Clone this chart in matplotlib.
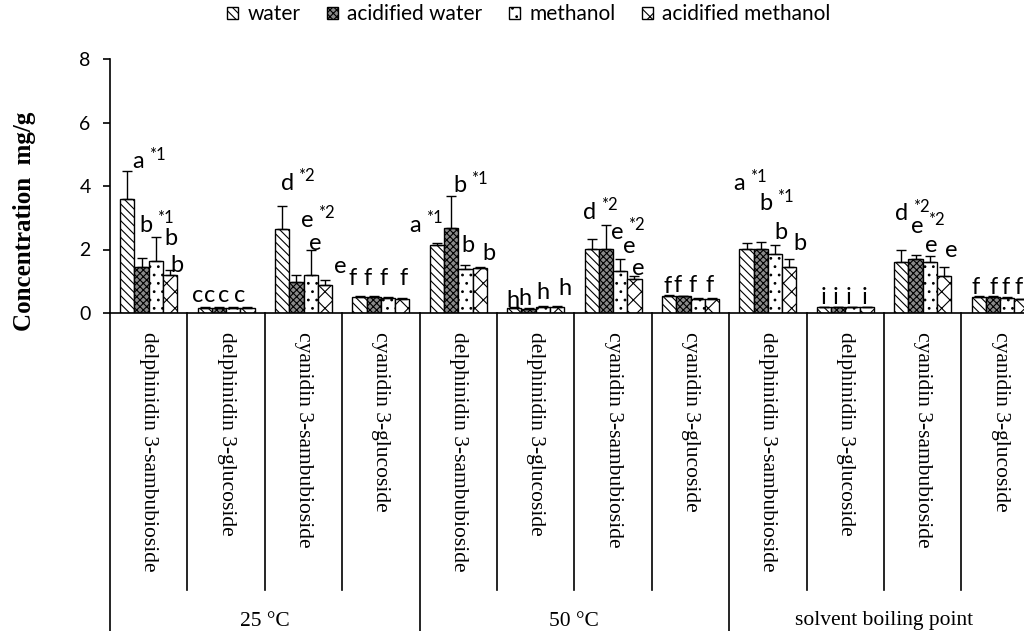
"""
Anthocyanin content of the extracts by solvent and extraction temperature.
Grouped hatched bars with upward error bars and significance letters.
"""

import numpy as np
import matplotlib
matplotlib.use("Agg")
import matplotlib.pyplot as plt


# ================================================================
# DATA
# ================================================================

TEMPERATURES = ["25 °C", "50 °C", "solvent boiling point"]
COMPOUNDS = [
    "delphinidin 3-sambubioside",
    "delphinidin 3-glucoside",
    "cyanidin 3-sambubioside",
    "cyanidin 3-glucoside",
]
SOLVENTS = ["water", "acidified water", "methanol", "acidified methanol"]

# mg/g, one value per compound x temperature (12 categories)
water = [3.59, 0.16, 2.63, 0.50, 2.15, 0.16, 2.03, 0.53, 2.03, 0.18, 1.60, 0.50]
water_err = [0.89, 0.03, 0.75, 0.02, 0.04, 0.02, 0.31, 0.04, 0.16, 0.02, 0.37, 0.03]
acid_water = [1.45, 0.15, 0.98, 0.50, 2.68, 0.14, 2.03, 0.53, 2.03, 0.18, 1.71, 0.50]
acid_water_err = [0.27, 0.03, 0.21, 0.02, 1.01, 0.02, 0.75, 0.02, 0.20, 0.02, 0.11, 0.05]
methanol = [1.63, 0.16, 1.19, 0.47, 1.40, 0.20, 1.32, 0.45, 1.87, 0.18, 1.60, 0.47]
methanol_err = [0.77, 0.03, 0.79, 0.02, 0.10, 0.02, 0.39, 0.02, 0.26, 0.02, 0.19, 0.02]
acid_meth = [1.19, 0.16, 0.87, 0.45, 1.41, 0.20, 1.08, 0.45, 1.45, 0.18, 1.18, 0.43]
acid_meth_err = [0.16, 0.03, 0.16, 0.02, 0.03, 0.02, 0.10, 0.02, 0.26, 0.02, 0.27, 0.02]

# significance letters per bar (water, acid. water, methanol, acid. methanol)
letters = [
    ["a", "b", "b", "b"], ["c", "c", "c", "c"], ["d", "e", "e", "e"], ["f", "f", "f", "f"],
    ["a", "b", "b", "b"], ["h", "h", "h", "h"], ["d", "e", "e", "e"], ["f", "f", "f", "f"],
    ["a", "b", "b", "b"], ["i", "i", "i", "i"], ["d", "e", "e", "e"], ["f", "f", "f", "f"],
]
superscripts = [
    ["*1", "*1", "", ""], ["", "", "", ""], ["*2", "*2", "", ""], ["", "", "", ""],
    ["*1", "*1", "", ""], ["", "", "", ""], ["*2", "*2", "", ""], ["", "", "", ""],
    ["*1", "*1", "", ""], ["", "", "", ""], ["*2", "*2", "", ""], ["", "", "", ""],
]


# ================================================================
# LAYOUT
# ================================================================

# letter placement: x offset from category centre (category widths), y in mg/g
LABEL_DX = [
    [-0.14, -0.03, 0.29, 0.37], [-0.37, -0.21, -0.03, 0.18],
    [-0.21, 0.05, 0.15, 0.47], [-0.36, -0.17, 0.03, 0.29],
    [-0.56, 0.02, 0.13, 0.40], [-0.29, -0.14, 0.09, 0.38],
    [-0.30, 0.05, 0.21, 0.33], [-0.30, -0.16, 0.03, 0.25],
    [-0.37, -0.03, 0.17, 0.42], [-0.28, -0.13, 0.04, 0.25],
    [-0.27, -0.07, 0.11, 0.37], [-0.32, -0.09, 0.07, 0.24],
]
LABEL_Y = [
    [4.76, 2.77, 2.36, 1.51], [0.56, 0.56, 0.56, 0.56],
    [4.09, 2.92, 2.20, 1.45], [1.08, 1.08, 1.08, 1.08],
    [2.76, 4.00, 2.13, 1.88], [0.39, 0.45, 0.66, 0.77],
    [3.18, 2.55, 2.11, 1.40], [0.82, 0.87, 0.87, 0.87],
    [4.08, 3.45, 2.55, 2.19], [0.50, 0.50, 0.50, 0.50],
    [3.13, 2.71, 2.13, 1.97], [0.81, 0.81, 0.81, 0.81],
]

SERIES_STYLE = [
    dict(facecolor="white", hatch="\\\\\\\\"),
    dict(facecolor="#8a8a8a", hatch="xxxxx"),
    dict(facecolor="white", hatch=".."),
    dict(facecolor="white", hatch="xx"),
]

SANS = ["Lato", "DejaVu Sans"]
SERIF = ["Liberation Serif", "DejaVu Serif"]

W, H = 1024, 631
AX_LEFT, AX_TOP, AX_ZERO = 110, 59, 313
CAT_W = 77.4


def main():
    plt.rcParams["font.family"] = SANS
    plt.rcParams["hatch.linewidth"] = 0.8

    fig = plt.figure(figsize=(W / 100, H / 100), dpi=100)
    ax = fig.add_axes([AX_LEFT / W, 1 - AX_ZERO / H,
                       12 * CAT_W / W, (AX_ZERO - AX_TOP) / H])

    values = [water, acid_water, methanol, acid_meth]
    errors = [water_err, acid_water_err, methanol_err, acid_meth_err]
    centers = np.arange(len(water))
    bar_w = 0.184

    handles = []
    for j, (vals, errs, style) in enumerate(zip(values, errors, SERIES_STYLE)):
        vals = np.asarray(vals)
        errs = np.asarray(errs)
        bars = ax.bar(centers + (j - 1.5) * bar_w, vals, bar_w,
                      edgecolor="black", linewidth=1.0, label=SOLVENTS[j],
                      yerr=[np.zeros_like(errs), errs], capsize=3.5,
                      error_kw=dict(ecolor="black", elinewidth=1.0, capthick=1.0),
                      zorder=2, **style)
        handles.append(bars)

    # significance letters
    for i in centers:
        for j in range(4):
            x = i + LABEL_DX[i][j]
            y = LABEL_Y[i][j]
            ax.text(x, y, letters[i][j], ha="center", va="center",
                    fontsize=17, zorder=3)
            if superscripts[i][j]:
                ax.annotate(superscripts[i][j], xy=(x, y), xytext=(14, 5),
                            textcoords="offset points", ha="center",
                            va="center", fontsize=12, zorder=3)

    ax.set_xlim(-0.5, len(water) - 0.5)
    ax.set_ylim(0, 8)
    ax.set_yticks([0, 2, 4, 6, 8])
    ax.set_xticks([])
    for side in ("top", "right"):
        ax.spines[side].set_visible(False)
    ax.spines["left"].set_linewidth(1.2)
    ax.spines["bottom"].set_linewidth(1.2)
    ax.tick_params(axis="y", direction="out", length=5, width=1.2,
                   labelsize=14, pad=9)

    # category / temperature axis below the bars
    xt = ax.get_xaxis_transform()
    ax_h = AX_ZERO - AX_TOP
    inner_bottom = -(590 - AX_ZERO) / ax_h
    outer_bottom = -(H + 5 - AX_ZERO) / ax_h
    for k in range(len(water) + 1):
        ybot = outer_bottom if k % 4 == 0 else inner_bottom
        ax.plot([k - 0.5, k - 0.5], [0, ybot], transform=xt, color="black",
                linewidth=1.2, clip_on=False)
    for i in centers:
        ax.text(i, -19 / ax_h, COMPOUNDS[i % 4], transform=xt, rotation=270,
                ha="center", va="top", fontsize=15.5, family=SERIF)
    for g, label in enumerate(TEMPERATURES):
        ax.text(4 * g + 1.5, -(621 - AX_ZERO) / ax_h, label, transform=xt,
                ha="center", va="center", fontsize=15.5, family=SERIF)

    fig.text(25 / W, 1 - 221 / H, "Concentration  mg/g", rotation=90,
             ha="center", va="center", fontsize=18, fontweight="bold",
             family=SERIF)

    fig.legend(handles=handles, loc="center", bbox_to_anchor=(529 / W, 1 - 14 / H),
               ncol=4, frameon=False, fontsize=15, handlelength=0.5,
               handleheight=0.5, handletextpad=0.45, columnspacing=1.3)

    fig.savefig("out.png", dpi=100)
    plt.close(fig)


if __name__ == "__main__":
    main()
